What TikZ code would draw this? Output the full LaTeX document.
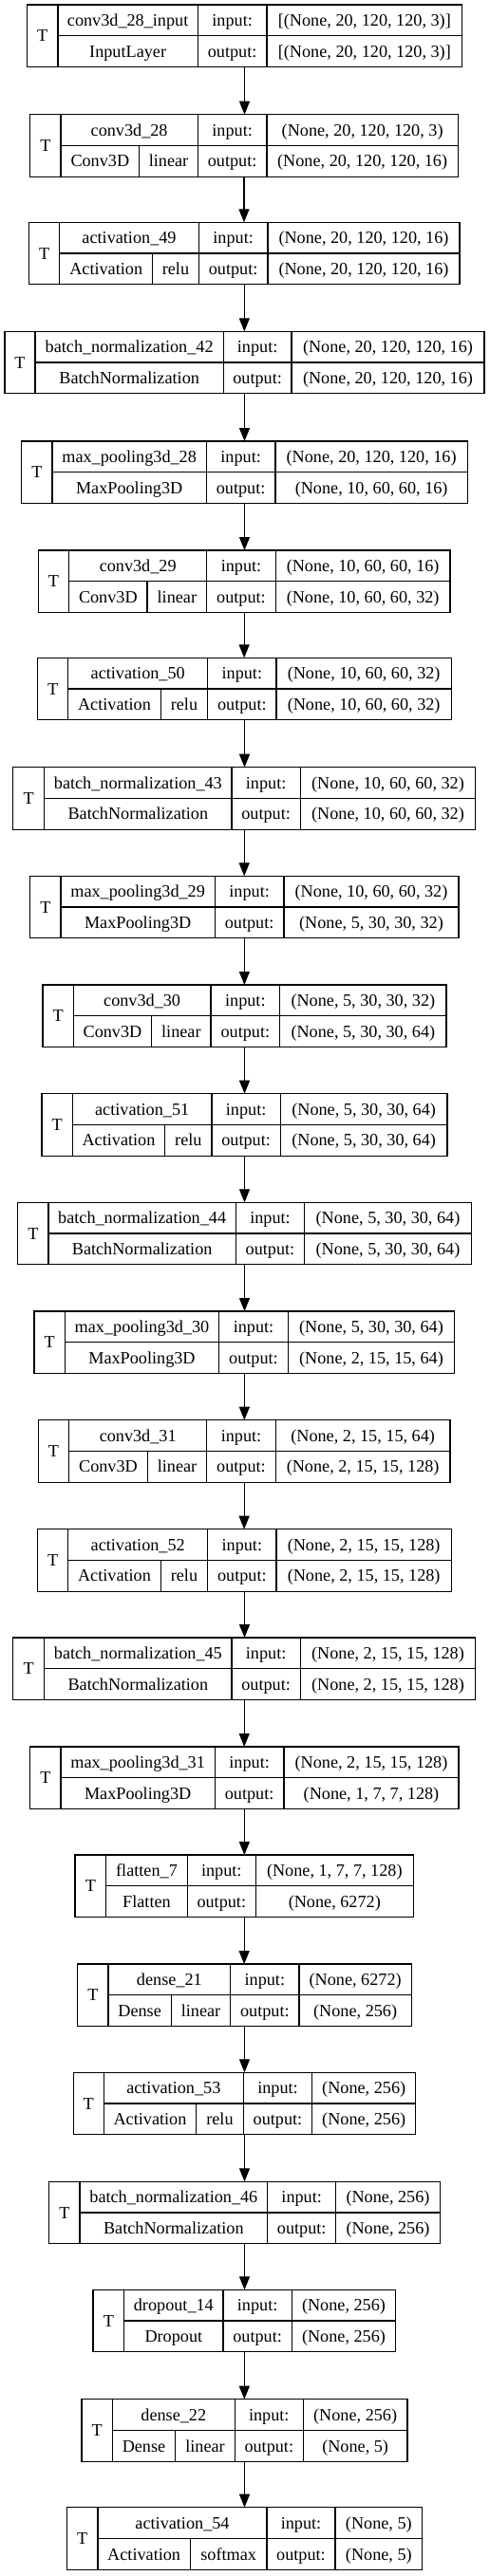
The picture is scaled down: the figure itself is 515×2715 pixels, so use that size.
\documentclass[tikz,border=0pt]{standalone}
\usepackage{fontspec}
\setmainfont{Liberation Serif}
\usetikzlibrary{arrows.meta}
\tikzset{
  box/.style={draw, line width=1.3pt, inner sep=0pt, outer sep=0pt, anchor=north west},
  sep/.style={line width=1.3pt},
  txt/.style={inner sep=0pt, text height=16.2pt, text depth=3.9pt, font=\fontsize{18.2}{20}\selectfont},
  flow/.style={line width=1.3pt, -{Triangle[length=14pt,width=11pt]}},
}
\newcommand\settext[5]{\def\Tname{#1}\def\Tcls{#2}\def\Tact{#3}\def\Tin{#4}\def\Tout{#5}}
\newcommand\layer[8]{%
  \pgfmathsetmacro\W{#8-#3}%
  \pgfmathsetmacro\yb{#2+65.5}\pgfmathsetmacro\ym{#2+32.75}%
  \pgfmathsetmacro\yu{#2+16.375}\pgfmathsetmacro\yl{#2+49.125}%
  \pgfmathsetmacro\xT{(#3+#4)/2}\pgfmathsetmacro\xN{(#4+#6)/2}%
  \pgfmathsetmacro\xI{(#6+#7)/2}\pgfmathsetmacro\xV{(#7+#8)/2}%
  \node[box, minimum width=\W pt, minimum height=65.5pt] (#1) at (#3,#2) {};
  \draw[sep] (#4,#2) -- (#4,\yb);
  \draw[sep] (#4,\ym) -- (#8,\ym);
  \draw[sep] (#6,#2) -- (#6,\yb);
  \draw[sep] (#7,#2) -- (#7,\yb);
  \node[txt] (#1t) at (\xT,\ym) {T};
  \node[txt] (#1n) at (\xN,\yu) {\Tname};
  \if\relax\detokenize{#5}\relax
    \node[txt] (#1c) at (\xN,\yl) {\Tcls};
  \else
    \pgfmathsetmacro\xC{(#4+#5)/2}\pgfmathsetmacro\xA{(#5+#6)/2}%
    \draw[sep] (#5,\ym) -- (#5,\yb);
    \node[txt] (#1c) at (\xC,\yl) {\Tcls};
    \node[txt] (#1a) at (\xA,\yl) {\Tact};
  \fi
  \node[txt] (#1i) at (\xI,\yu) {input:};
  \node[txt] (#1o) at (\xI,\yl) {output:};
  \node[txt] (#1iv) at (\xV,\yu) {\Tin};
  \node[txt] (#1ov) at (\xV,\yl) {\Tout};
}
\begin{document}
\begin{tikzpicture}[x=1pt,y=-1pt]
\useasboundingbox (0,0) rectangle (515,2715);
\settext{conv3d\_28\_input}{InputLayer}{}{[(None, 20, 120, 120, 3)]}{[(None, 20, 120, 120, 3)]}
\layer{n1}{5}{28.3}{61}{}{208.3}{281}{486.7}
\settext{conv3d\_28}{Conv3D}{linear}{(None, 20, 120, 120, 3)}{(None, 20, 120, 120, 16)}
\layer{n2}{120.7}{31.7}{64}{146.7}{208.3}{281}{482.3}
\settext{activation\_49}{Activation}{relu}{(None, 20, 120, 120, 16)}{(None, 20, 120, 120, 16)}
\layer{n3}{234.3}{30.7}{62.7}{160.7}{209.3}{282}{484}
\settext{batch\_normalization\_42}{BatchNormalization}{}{(None, 20, 120, 120, 16)}{(None, 20, 120, 120, 16)}
\layer{n4}{349.3}{5}{37}{}{235.3}{307}{510}
\settext{max\_pooling3d\_28}{MaxPooling3D}{}{(None, 20, 120, 120, 16)}{(None, 10, 60, 60, 16)}
\layer{n5}{465}{22.7}{55}{}{217.3}{290}{492.3}
\settext{conv3d\_29}{Conv3D}{linear}{(None, 10, 60, 60, 16)}{(None, 10, 60, 60, 32)}
\layer{n6}{580}{40.3}{72.7}{155}{217.7}{290.3}{474}
\settext{activation\_50}{Activation}{relu}{(None, 10, 60, 60, 32)}{(None, 10, 60, 60, 32)}
\layer{n7}{693.3}{39.7}{71.7}{169.3}{218.7}{291}{475.3}
\settext{batch\_normalization\_43}{BatchNormalization}{}{(None, 10, 60, 60, 32)}{(None, 10, 60, 60, 32)}
\layer{n8}{808.7}{13.7}{46.7}{}{244}{316.3}{500.7}
\settext{max\_pooling3d\_29}{MaxPooling3D}{}{(None, 10, 60, 60, 32)}{(None, 5, 30, 30, 32)}
\layer{n9}{923.3}{31.7}{64}{}{226.3}{299}{483}
\settext{conv3d\_30}{Conv3D}{linear}{(None, 5, 30, 30, 32)}{(None, 5, 30, 30, 64)}
\layer{n10}{1038}{45}{77.3}{159.7}{222}{294.7}{470}
\settext{activation\_51}{Activation}{relu}{(None, 5, 30, 30, 64)}{(None, 5, 30, 30, 64)}
\layer{n11}{1152.7}{44}{76.3}{173.7}{223}{295.3}{471}
\settext{batch\_normalization\_44}{BatchNormalization}{}{(None, 5, 30, 30, 64)}{(None, 5, 30, 30, 64)}
\layer{n12}{1267.3}{18.7}{51}{}{248.3}{320.7}{496.3}
\settext{max\_pooling3d\_30}{MaxPooling3D}{}{(None, 5, 30, 30, 64)}{(None, 2, 15, 15, 64)}
\layer{n13}{1382}{36}{68.3}{}{230.7}{303.3}{478.7}
\settext{conv3d\_31}{Conv3D}{linear}{(None, 2, 15, 15, 64)}{(None, 2, 15, 15, 128)}
\layer{n14}{1496.7}{40.3}{72.7}{155.3}{217.7}{290.3}{474}
\settext{activation\_52}{Activation}{relu}{(None, 2, 15, 15, 128)}{(None, 2, 15, 15, 128)}
\layer{n15}{1611.7}{39.7}{71.7}{169.3}{218.7}{291}{475.3}
\settext{batch\_normalization\_45}{BatchNormalization}{}{(None, 2, 15, 15, 128)}{(None, 2, 15, 15, 128)}
\layer{n16}{1726}{13.7}{46.7}{}{244}{316.3}{500.7}
\settext{max\_pooling3d\_31}{MaxPooling3D}{}{(None, 2, 15, 15, 128)}{(None, 1, 7, 7, 128)}
\layer{n17}{1841}{31.7}{64}{}{226.3}{299}{483}
\settext{flatten\_7}{Flatten}{}{(None, 1, 7, 7, 128)}{(None, 6272)}
\layer{n18}{1955}{79}{111.7}{}{197.3}{269.3}{435.3}
\settext{dense\_21}{Dense}{linear}{(None, 6272)}{(None, 256)}
\layer{n19}{2070}{81.7}{114}{180.3}{242.7}{315}{433.3}
\settext{activation\_53}{Activation}{relu}{(None, 256)}{(None, 256)}
\layer{n20}{2184.3}{77.3}{109.3}{206.7}{256.3}{328.7}{437.7}
\settext{batch\_normalization\_46}{BatchNormalization}{}{(None, 256)}{(None, 256)}
\layer{n21}{2299.3}{51.7}{84}{}{281.7}{353.7}{463.3}
\settext{dropout\_14}{Dropout}{}{(None, 256)}{(None, 256)}
\layer{n22}{2413.3}{98}{130.7}{}{235}{307.3}{416.7}
\settext{dense\_22}{Dense}{linear}{(None, 256)}{(None, 5)}
\layer{n23}{2528.7}{86}{118.3}{184.7}{247.3}{319.3}{429}
\settext{activation\_54}{Activation}{softmax}{(None, 5)}{(None, 5)}
\layer{n24}{2642.7}{70.3}{103}{200.3}{281}{353}{444.7}
\foreach \a/\b in {n1/n2,n2/n3,n3/n4,n4/n5,n5/n6,n6/n7,n7/n8,n8/n9,n9/n10,n10/n11,n11/n12,n12/n13,n13/n14,n14/n15,n15/n16,n16/n17,n17/n18,n18/n19,n19/n20,n20/n21,n21/n22,n22/n23,n23/n24}
  \draw[flow] (\a.south) -- (\a.south |- \b.north);
\end{tikzpicture}
\end{document}
